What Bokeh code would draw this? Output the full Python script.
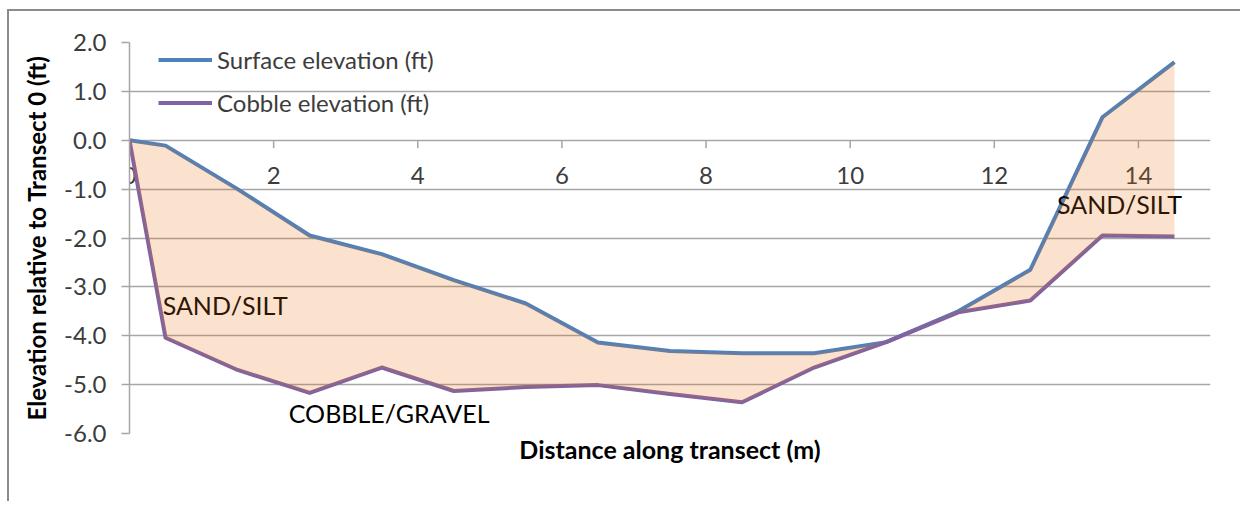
from bokeh.plotting import figure
from bokeh.models import FixedTicker, NumeralTickFormatter, Legend, LegendItem
from bokeh.core.properties import value
from bokeh.embed import file_html
from bokeh.resources import INLINE

# ---- data ----
distance = [0, 0.5, 1.5, 2.5, 3.5, 4.5, 5.5, 6.5, 7.5, 8.5, 9.5, 10.5, 11.5, 12.5, 13.5, 14.5]
surface = [0.0, -0.11, -1.0, -1.95, -2.33, -2.86, -3.34, -4.14, -4.31, -4.36, -4.36, -4.13, -3.50, -2.65, 0.47, 1.60]
cobble = [0.0, -4.04, -4.70, -5.17, -4.65, -5.13, -5.05, -5.01, -5.19, -5.36, -4.65, -4.13, -3.52, -3.28, -1.95, -1.97]
x_ticks = [0, 2, 4, 6, 8, 10, 12, 14]
y_ticks = [-6, -5, -4, -3, -2, -1, 0, 1, 2]
zone_labels = ["SAND/SILT", "COBBLE/GRAVEL", "SAND/SILT"]
zone_x = [0.46, 2.21, 12.87]
zone_y = [-3.37, -5.58, -1.30]

FONT = "Lato"
GRID = "#a6a6a6"
TXT = "#3c3c3c"

p = figure(x_range=(0, 15), y_range=(-6, 2),
           frame_width=1081, frame_height=391,
           min_border_left=120, min_border_top=31, min_border_right=30, min_border_bottom=68,
           output_backend="svg", toolbar_location=None, tools="")
p.styles = {"border-top": "2px solid #8c8c8c", "border-left": "2px solid #8c8c8c",
            "margin-top": "9px", "margin-left": "7px"}
p.outline_line_color = None
p.background_fill_color = "white"
p.border_fill_color = "white"

# grid
p.xgrid.visible = False
p.ygrid.ticker = FixedTicker(ticks=y_ticks)
p.ygrid.grid_line_color = GRID
p.ygrid.grid_line_width = 1.5

# y axis
ya = p.yaxis[0]
ya.ticker = FixedTicker(ticks=y_ticks)
ya.formatter = NumeralTickFormatter(format="0.0")
ya.axis_line_color = GRID
ya.axis_line_width = 1.5
ya.major_tick_line_color = GRID
ya.major_tick_line_width = 1.5
ya.major_tick_out = 8
ya.major_tick_in = 0
ya.minor_tick_line_color = None
ya.major_label_text_font = FONT
ya.major_label_text_font_size = "24px"
ya.major_label_text_color = TXT
ya.major_label_standoff = 15
ya.axis_label = "Elevation relative to Transect 0 (ft)"
ya.axis_label_text_font = FONT
ya.axis_label_text_font_style = "bold"
ya.axis_label_text_font_size = "24px"
ya.axis_label_text_color = "black"
ya.axis_label_standoff = 10

# x axis (title only; ticks drawn at y = 0)
xa = p.xaxis[0]
xa.ticker = FixedTicker(ticks=[])
xa.axis_line_color = None
xa.major_tick_out = 0
xa.major_tick_in = 0
xa.minor_tick_line_color = None
xa.axis_label = "Distance along transect (m)"
xa.axis_label_text_font = FONT
xa.axis_label_text_font_style = "bold"
xa.axis_label_text_font_size = "25px"
xa.axis_label_text_color = "black"
xa.axis_label_standoff = 0

# x tick marks and labels at y = 0
n = len(x_ticks)
p.segment(x0=x_ticks, y0=[0] * n, x1=x_ticks, y1=[-0.165] * n,
          line_color=GRID, line_width=1.5)
p.text(x=x_ticks, y=[-0.72] * n, text=[str(t) for t in x_ticks],
       text_align="center", text_baseline="middle",
       text_font=value(FONT), text_font_size="24px", text_color=TXT)

# series lines
r_s = p.line(distance, surface, line_color="#4f81bd", line_width=4, line_join="round")
r_c = p.line(distance, cobble, line_color="#8064a2", line_width=4, line_join="round")

# zone labels
p.text(x=zone_x, y=zone_y, text=zone_labels, text_align="left", text_baseline="middle",
       text_font=value(FONT), text_font_size="25px", text_color="black")

# shaded sediment zone (drawn on top, translucent)
p.varea(x=distance, y1=surface, y2=cobble, fill_color="#e46c0a", fill_alpha=0.2)

legend = Legend(items=[LegendItem(label="Surface elevation (ft)", renderers=[r_s]),
                       LegendItem(label="Cobble elevation (ft)", renderers=[r_c])],
                location=(29, 316), padding=0, margin=0, spacing=14,
                glyph_width=54, glyph_height=29, label_height=29, label_standoff=5,
                label_text_font=FONT, label_text_font_size="24px", label_text_color=TXT,
                border_line_color=None, background_fill_alpha=0)
p.add_layout(legend)

open("out.html", "w").write(file_html(p, INLINE))
